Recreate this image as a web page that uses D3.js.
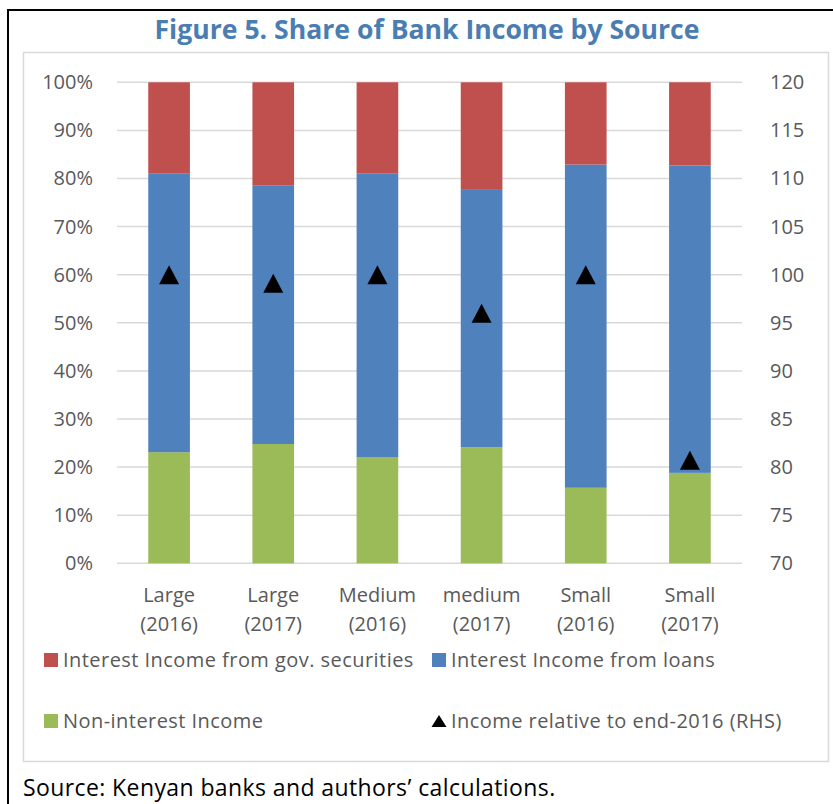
<!DOCTYPE html>
<html lang="en">
    <head>
        <meta charset="utf-8">
        <title>Share of Bank Income by Source</title>
        <script src="https://cdn.jsdelivr.net/npm/d3@7"></script>
        <style type="text/css">
            body { margin: 0; background: #fff; }
            text { font-family: "Open Sans", sans-serif; }
        </style>
    </head>
    <body>
        <script type="text/javascript">
            // data
            var catName = ['Large', 'Large', 'Medium', 'medium', 'Small', 'Small'];
            var catYear = ['(2016)', '(2017)', '(2016)', '(2017)', '(2016)', '(2017)'];
            var nonInterest = [23.1, 24.8, 22.1, 24.1, 15.7, 18.8];
            var loans = [58.0, 53.8, 59.0, 53.7, 67.2, 63.9];
            var govSec = [18.9, 21.4, 18.9, 22.2, 17.1, 17.3];
            var relIncome = [100, 99.1, 100, 96.0, 100, 80.7];
            var leftTicks = [0, 10, 20, 30, 40, 50, 60, 70, 80, 90, 100];
            var rightTicks = [70, 75, 80, 85, 90, 95, 100, 105, 110, 115, 120];

            var w = 833;
            var h = 804;
            var textColor = '#595959';
            var colors = { nonInterest: '#9bbb59', loans: '#4f81bd', govSec: '#c0504d' };

            var svg = d3.select('body').append('svg')
                        .attr('width', w)
                        .attr('height', h);

            // outer frame (top and left only) and the chart box
            svg.append('path')
                .attr('d', 'M8,' + h + 'V10H' + w)
                .attr('fill', 'none')
                .attr('stroke', '#000')
                .attr('stroke-width', 2);
            svg.append('rect')
                .attr('x', 23.5).attr('y', 52.5)
                .attr('width', 805).attr('height', 709)
                .attr('fill', 'none')
                .attr('stroke', '#d9d9d9')
                .attr('stroke-width', 1.5);

            svg.append('text')
                .text('Figure 5. Share of Bank Income by Source')
                .attr('x', 427)
                .attr('y', 39)
                .attr('text-anchor', 'middle')
                .attr('font-size', '26px')
                .attr('font-weight', 'bold')
                .attr('fill', '#4a7db2')
                .attr('textLength', 545)
                .attr('lengthAdjust', 'spacingAndGlyphs');

            var xScale = d3.scaleBand()
                          .domain(d3.range(catName.length))
                          .range([117, 742])
                          .paddingInner(0.6)
                          .paddingOuter(0.3);
            var yScale = d3.scaleLinear().domain([0, 100]).range([563.3, 82.3]);
            var yRight = d3.scaleLinear().domain([70, 120]).range([563.3, 82.3]);

            // gridlines
            svg.selectAll('line.grid')
                .data(leftTicks)
                .enter()
                .append('line')
                .attr('class', 'grid')
                .attr('x1', 117).attr('x2', 742)
                .attr('y1', function(d) { return yScale(d); })
                .attr('y2', function(d) { return yScale(d); })
                .attr('stroke', '#d9d9d9')
                .attr('stroke-width', 1.5);

            // left axis
            var leftAxis = svg.append('g')
                .attr('transform', 'translate(117,0)')
                .call(d3.axisLeft(yScale).tickValues(leftTicks)
                        .tickFormat(function(d) { return d + '%'; })
                        .tickSize(0).tickPadding(24));
            leftAxis.select('.domain').remove();
            leftAxis.selectAll('text')
                .attr('font-size', '20px')
                .attr('font-family', '"Open Sans", sans-serif')
                .attr('fill', textColor);

            // right axis
            var rightAxis = svg.append('g')
                .attr('transform', 'translate(742,0)')
                .call(d3.axisRight(yRight).tickValues(rightTicks)
                        .tickSize(0).tickPadding(28));
            rightAxis.select('.domain').remove();
            rightAxis.selectAll('text')
                .attr('font-size', '20px')
                .attr('font-family', '"Open Sans", sans-serif')
                .attr('fill', textColor);

            // stacked bars
            var rows = catName.map(function(c, i) {
              return { i: i, nonInterest: nonInterest[i], loans: loans[i], govSec: govSec[i] };
            });
            var stack = d3.stack().keys(['nonInterest', 'loans', 'govSec'])(rows);

            svg.selectAll('g.series')
                .data(stack)
                .enter()
                .append('g')
                .attr('class', 'series')
                .attr('fill', function(d) { return colors[d.key]; })
                .selectAll('rect')
                .data(function(d) { return d; })
                .enter()
                .append('rect')
                .attr('x', function(d) { return xScale(d.data.i); })
                .attr('width', xScale.bandwidth())
                .attr('y', function(d) { return yScale(d[1]); })
                .attr('height', function(d) { return yScale(d[0]) - yScale(d[1]); });

            // triangle markers (RHS), box centred on value
            function tri(wd, ht) {
              return 'M0,' + (-ht / 2) + 'L' + (wd / 2) + ',' + (ht / 2) + 'L' + (-wd / 2) + ',' + (ht / 2) + 'Z';
            }
            svg.selectAll('path.marker')
                .data(relIncome)
                .enter()
                .append('path')
                .attr('class', 'marker')
                .attr('d', tri(20, 19))
                .attr('transform', function(d, i) {
                  return 'translate(' + (xScale(i) + xScale.bandwidth() / 2) + ',' + yRight(d) + ')';
                })
                .attr('fill', '#000');

            // category labels
            var xl = svg.selectAll('text.cat')
                .data(catName)
                .enter()
                .append('text')
                .attr('class', 'cat')
                .attr('text-anchor', 'middle')
                .attr('font-size', '20px')
                .attr('fill', textColor);
            xl.append('tspan')
                .attr('x', function(d, i) { return xScale(i) + xScale.bandwidth() / 2; })
                .attr('y', 602)
                .text(function(d) { return d; });
            xl.append('tspan')
                .attr('x', function(d, i) { return xScale(i) + xScale.bandwidth() / 2; })
                .attr('y', 631)
                .text(function(d, i) { return catYear[i]; });

            // legend
            var legend = [
              { label: 'Interest Income from gov. securities', color: colors.govSec, x: 44, y: 660 },
              { label: 'Interest Income from loans', color: colors.loans, x: 432, y: 660 },
              { label: 'Non-interest Income', color: colors.nonInterest, x: 44, y: 721 },
              { label: 'Income relative to end-2016 (RHS)', color: null, x: 432, y: 721 }
            ];
            var lg = svg.selectAll('g.legend')
                .data(legend)
                .enter()
                .append('g')
                .attr('class', 'legend')
                .attr('transform', function(d) { return 'translate(' + d.x + ',' + d.y + ')'; });
            lg.filter(function(d) { return d.color; })
                .append('rect')
                .attr('x', 0).attr('y', -7)
                .attr('width', 14).attr('height', 14)
                .attr('fill', function(d) { return d.color; });
            lg.filter(function(d) { return !d.color; })
                .append('path')
                .attr('d', tri(15, 12))
                .attr('transform', 'translate(7,0)')
                .attr('fill', '#000');
            lg.append('text')
                .text(function(d) { return d.label; })
                .attr('x', 19)
                .attr('y', 7)
                .attr('font-size', '20px')
                .attr('letter-spacing', '0.45px')
                .attr('fill', textColor);

            svg.append('text')
                .text('Source: Kenyan banks and authors\u2019 calculations.')
                .attr('x', 23)
                .attr('y', 796)
                .attr('font-size', '23px')
                .attr('letter-spacing', '0.4px')
                .attr('fill', '#000');
        </script>
    </body>
</html>
